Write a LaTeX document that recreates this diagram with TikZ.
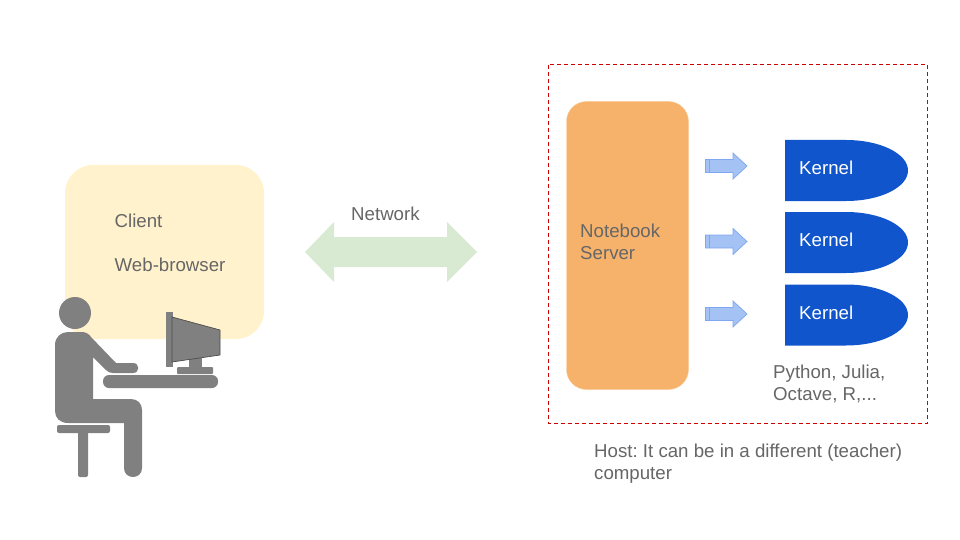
\documentclass[tikz,border=0pt]{standalone}
\usepackage{fontspec}
\setmainfont{Liberation Sans}
\frenchspacing
\definecolor{txtgray}{HTML}{666666}
\definecolor{figgray}{HTML}{808080}
\definecolor{clientfill}{HTML}{FFF2CC}
\definecolor{serverfill}{HTML}{F6B26B}
\definecolor{serverline}{HTML}{F9CB9C}
\definecolor{netfill}{HTML}{D9EAD3}
\definecolor{kernelfill}{HTML}{1155CC}
\definecolor{arrowfill}{HTML}{A4C2F4}
\definecolor{arrowline}{HTML}{7FA6EE}
\definecolor{hostline}{HTML}{CC0000}
\tikzset{
  label/.style={text=txtgray, anchor=west, inner sep=0pt, align=left, font=\fontsize{18.67}{22}\selectfont},
  figure/.style={fill=figgray, draw=none},
}
\begin{document}
\begin{tikzpicture}[x=1pt, y=-1pt]
\useasboundingbox (0,0) rectangle (960,540);
% client side
\fill[clientfill, rounded corners=28pt] (65,165) rectangle (264,339);
\node[label] (client) at (114.5,221) {Client};
\node[label] (browser) at (114.5,265) {Web-browser};
% person
\fill[figure] (75,313) circle (16pt);
\fill[figure] (55,345) .. controls (55,337) and (61,332) .. (68,332) -- (82,332)
  .. controls (86,332) and (89,334) .. (91,337) -- (116,363) -- (133,363)
  .. controls (140,363) and (140,373) .. (133,373) -- (113,373)
  .. controls (110,373) and (108,372) .. (106,370) -- (93,357) -- (93,399) -- (131,399)
  .. controls (138,399) and (142,404) .. (142,410) -- (142,468)
  .. controls (142,480) and (124,480) .. (124,468) -- (124,423) -- (68,423)
  .. controls (60,423) and (55,418) .. (55,411) -- cycle;
\fill[figure, rounded corners=2pt] (57,425) rectangle (110,433);
\fill[figure, rounded corners=2pt] (78,431) rectangle (88,477);
\fill[figure, rounded corners=6pt] (103,375) rectangle (218,388);
% monitor
\fill[figure, rounded corners=1pt] (177,367) rectangle (213,374);
\fill[figure] (189,358) rectangle (202,367);
\fill[figure] (166,312) rectangle (173,367);
\fill[figure] (172,317) -- (220,330) -- (220,355) -- (172,362) -- cycle;
\draw[black!70, line width=0.7pt] (220,355) -- (220,330) -- (172,317) -- (172,362) -- (220,355);
% network
\fill[netfill] (305,252) -- (334,222) -- (334,237) -- (447,237) -- (447,222) -- (477,252)
  -- (447,282) -- (447,267) -- (334,267) -- (334,282) -- cycle;
\node[label] (network) at (351,214) {Network};
% host
\draw[hostline, dash pattern=on 4pt off 3pt, line width=0.8pt] (548.3,64.8) rectangle (927.5,423.5);
\draw[serverline, fill=serverfill, rounded corners=20pt] (566.5,101.5) rectangle (688.5,389.5);
\node[label] (server) at (580,242) {Notebook\\Server};
\foreach \i/\ya/\yb in {1/140/166, 2/212/241.5, 3/284.5/314} {
  \fill[kernelfill] (785,\ya) -- (846,\ya) arc[start angle=90, end angle=-90, x radius=62pt, y radius=30.5pt]
    -- (785,\ya+61) -- cycle;
  \node[label, text=white] (kernel\i) at (799,\ya+28) {Kernel};
  \draw[arrowline, fill=arrowfill, line width=0.7pt] (705.5,\yb-6.5) -- (733,\yb-6.5) -- (733,\yb-13)
    -- (747,\yb) -- (733,\yb+13) -- (733,\yb+6.5) -- (705.5,\yb+6.5) -- cycle;
  \draw[arrowline, line width=0.7pt] (709.5,\yb-6.5) -- (709.5,\yb+6.5);
}
\node[label] (langs) at (773,383.5) {Python, Julia,\\Octave, R,...};
\node[label] (host) at (594,463.5) {Host: It can be in a different (teacher)\\computer};
\end{tikzpicture}
\end{document}
